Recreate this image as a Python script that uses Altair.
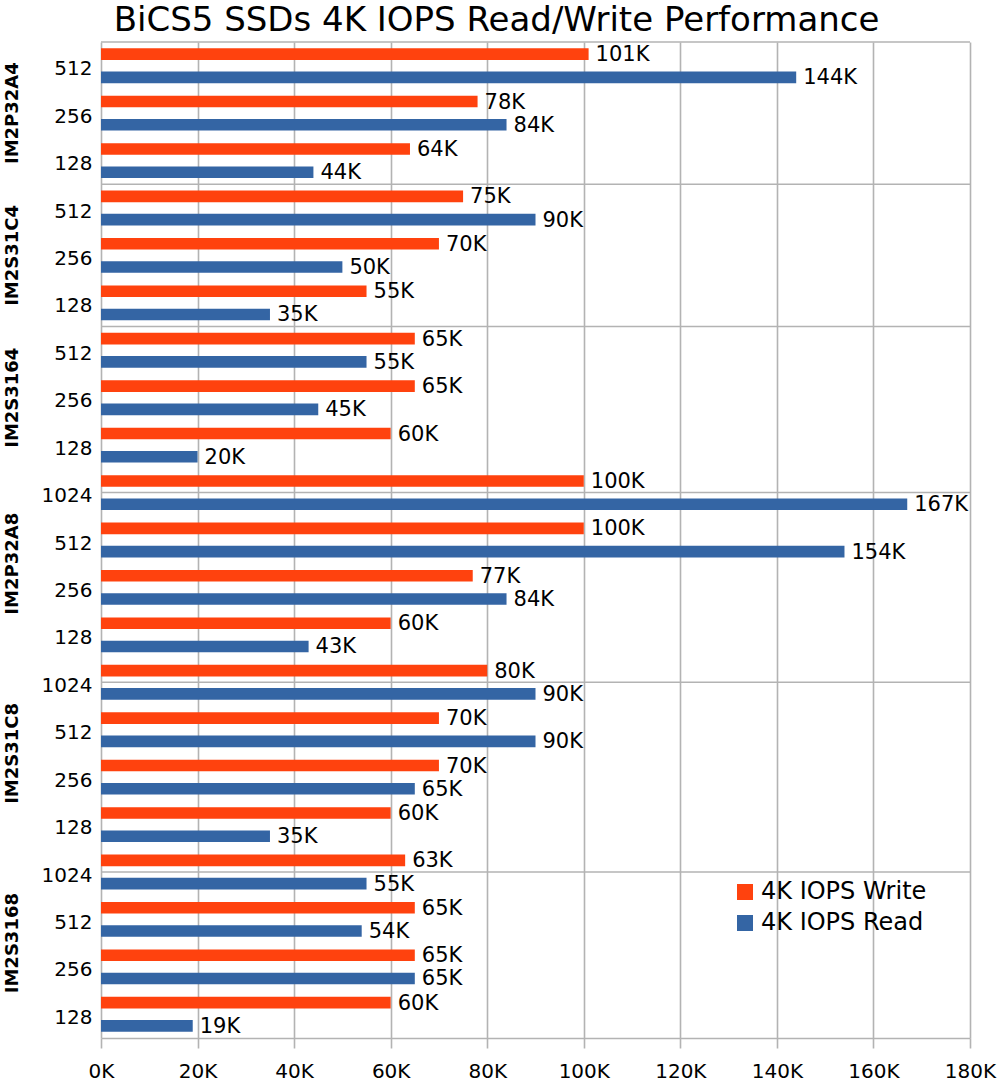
import altair as alt
import pandas as pd

# ---- data (values in thousands of IOPS) ----
groups = ["IM2P32A4", "IM2S31C4", "IM2S3164", "IM2P32A8", "IM2S31C8", "IM2S3168"]
capacities = [
    [512, 256, 128],
    [512, 256, 128],
    [512, 256, 128],
    [1024, 512, 256, 128],
    [1024, 512, 256, 128],
    [1024, 512, 256, 128],
]
write_k = [
    [101, 78, 64],
    [75, 70, 55],
    [65, 65, 60],
    [100, 100, 77, 60],
    [80, 70, 70, 60],
    [63, 65, 65, 60],
]
read_k = [
    [144, 84, 44],
    [90, 50, 35],
    [55, 45, 20],
    [167, 154, 84, 43],
    [90, 90, 65, 35],
    [55, 54, 65, 19],
]
series_names = ["4K IOPS Write", "4K IOPS Read"]
series_colors = ["#FF420E", "#3465A4"]
x_ticks = [0, 20, 40, 60, 80, 100, 120, 140, 160, 180]
title_text = "BiCS5 SSDs 4K IOPS Read/Write Performance"

# ---- build tables ----
bar_rows, row_order, sep_rows, center_rows = [], [], [], []
start = 0
for g, caps, w, r in zip(groups, capacities, write_k, read_k):
    n = len(caps)
    # LibreOffice draws the category separator half a row into 4-row groups
    sep_rows.append({"pos": start + (n - 3) / 2})
    center_rows.append({"group": g, "pos": start + n / 2})
    for c, wv, rv in zip(caps, w, r):
        key = f"{g} {c}"
        row_order.append(key)
        bar_rows.append({"row": key, "series": series_names[0], "iops": wv})
        bar_rows.append({"row": key, "series": series_names[1], "iops": rv})
    start += n
total_rows = start

bars_df = pd.DataFrame(bar_rows)
bars_df["lbl"] = bars_df["iops"].astype(str) + "K"
sep_df = pd.DataFrame(sep_rows)
center_df = pd.DataFrame(center_rows)

FONT = "DejaVu Sans"
GRID = "#b3b3b3"
GW = 1.6

x_scale = alt.Scale(domain=[0, 180], nice=False, zero=True)
x_axis = alt.Axis(
    values=x_ticks, labelExpr="datum.value + 'K'", title=None,
    grid=True, gridColor=GRID, gridWidth=GW,
    domainColor=GRID, domainWidth=GW,
    tickColor=GRID, tickWidth=GW, tickSize=10,
    labelFont=FONT, labelFontSize=20, labelColor="#000000",
    labelPadding=13, labelFlush=False,
)
x_enc = alt.X("iops:Q", scale=x_scale, axis=x_axis)

y_band = alt.Y(
    "row:N", sort=row_order,
    scale=alt.Scale(paddingInner=0, paddingOuter=0),
    axis=alt.Axis(
        title=None, ticks=False, domain=False, grid=False,
        labelExpr="split(datum.label, ' ')[1]",
        labelFont=FONT, labelFontSize=20, labelColor="#000000",
        labelPadding=9, labelOffset=3.5,
    ),
)
y_off = alt.YOffset(
    "series:N", sort=series_names,
    scale=alt.Scale(paddingInner=0.5, paddingOuter=0.27),
)
color_enc = alt.Color(
    "series:N",
    scale=alt.Scale(domain=series_names, range=series_colors),
    legend=alt.Legend(
        title=None, orient="none", legendX=632, legendY=838,
        symbolType="square", symbolSize=256, symbolStrokeWidth=0,
        labelFont=FONT, labelFontSize=24, labelColor="#000000",
        labelOffset=4, rowPadding=7, padding=0, labelLimit=0,
    ),
)

y_q_scale = alt.Scale(domain=[0, total_rows], reverse=True, nice=False, zero=False)

separators = alt.Chart(sep_df).mark_rule(color=GRID, strokeWidth=GW).encode(
    y=alt.Y("pos:Q", scale=y_q_scale, axis=None)
)

group_labels = alt.Chart(center_df).mark_text(
    angle=270, align="center", baseline="alphabetic",
    font=FONT, fontSize=18, fontWeight="bold", color="#000000",
).encode(
    y=alt.Y("pos:Q", scale=y_q_scale, axis=None),
    x=alt.value(-83),
    text="group:N",
)

bars = alt.Chart(bars_df).mark_bar().encode(
    x=x_enc, y=y_band, yOffset=y_off, color=color_enc
)

value_labels = alt.Chart(bars_df).mark_text(
    align="left", baseline="middle", dx=7, dy=1,
    font=FONT, fontSize=21, color="#000000",
).encode(
    x=x_enc,
    y=alt.Y("row:N", sort=row_order,
            scale=alt.Scale(paddingInner=0, paddingOuter=0), axis=None),
    yOffset=y_off,
    text="lbl:N",
)

chart = alt.layer(
    separators, group_labels, bars, value_labels
).resolve_scale(
    y="independent"
).properties(
    width=869, height=996,
    title=alt.TitleParams(
        text=title_text, font=FONT, fontSize=34, fontWeight="normal",
        color="#000000", anchor="middle", frame="group", dx=-39, offset=3,
    ),
    autosize=alt.AutoSizeParams(type="none"),
    padding={"left": 101, "top": 42, "right": 30, "bottom": 43},
).configure_view(
    stroke=None
)

chart.save("out.html", embed_options={"renderer": "svg", "actions": False})
